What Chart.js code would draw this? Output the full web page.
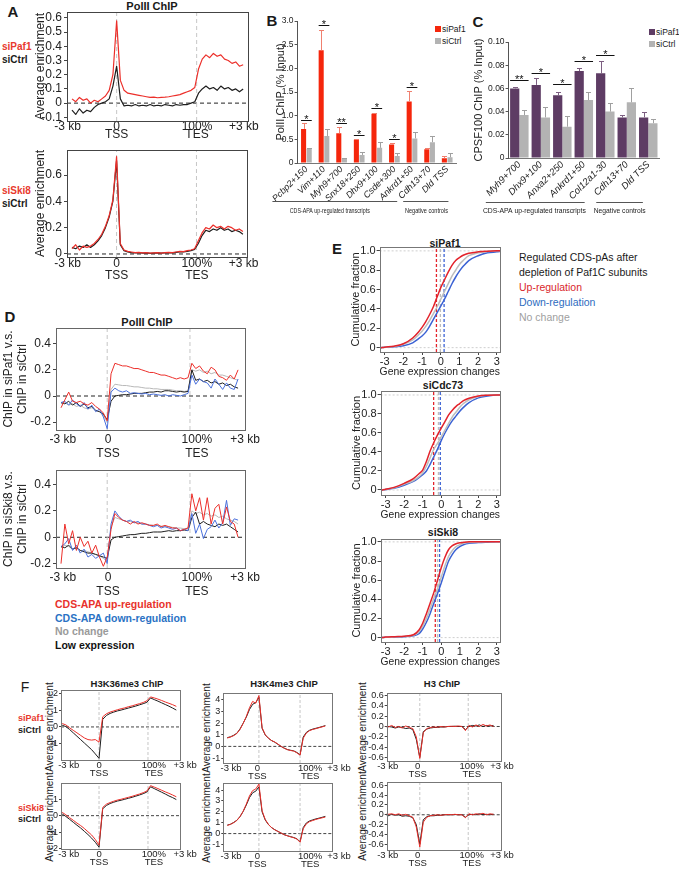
<!DOCTYPE html>
<html><head><meta charset="utf-8">
<script src="https://cdn.jsdelivr.net/npm/chart.js@4.4.1/dist/chart.umd.min.js"></script>
<style>
html,body{margin:0;padding:0;background:#fff}
body{position:relative;width:679px;height:870px;overflow:hidden;font-family:'Liberation Sans',Arial,sans-serif;color:#1a1a1a}
canvas{position:absolute}
.t{position:absolute;white-space:nowrap;line-height:1}
.c{transform:translate(-50%,-50%)}
.l{transform:translate(0,-50%)}
.r{transform:translate(-50%,-50%) rotate(-90deg)}
.b{font-weight:bold}
.sq{position:absolute;width:6px;height:6px}
</style></head><body>
<div class="t c b" style="left:13px;top:11px;font-size:15px">A</div>
<div class="t c b" style="left:152px;top:6px;font-size:11px">PolII ChIP</div>
<div class="t l b" style="left:2px;top:47px;font-size:10px;color:#e8392e">siPaf1</div>
<div class="t l b" style="left:2px;top:60px;font-size:10px">siCtrl</div>
<div class="t l b" style="left:2px;top:191px;font-size:10px;color:#e8392e">siSki8</div>
<div class="t l b" style="left:2px;top:204px;font-size:10px">siCtrl</div>

<div class="t c b" style="left:272px;top:20px;font-size:15px">B</div>
<div class="sq" style="left:435px;top:26px;background:#f5260c"></div>
<div class="t l" style="left:442px;top:29px;font-size:8.5px">siPaf1</div>
<div class="sq" style="left:435px;top:38px;background:#b3b3b3"></div>
<div class="t l" style="left:442px;top:41px;font-size:8.5px">siCtrl</div>

<div class="t c b" style="left:478px;top:21px;font-size:15px">C</div>
<div class="sq" style="left:649px;top:29px;background:#5e3c64"></div>
<div class="t l" style="left:656px;top:32px;font-size:8.5px">siPaf1</div>
<div class="sq" style="left:649px;top:40.5px;background:#b3b3b3"></div>
<div class="t l" style="left:656px;top:43.5px;font-size:8.5px">siCtrl</div>

<div class="t c b" style="left:10px;top:316px;font-size:15px">D</div>
<div class="t c b" style="left:147px;top:322px;font-size:11px">PolII ChIP</div>
<div class="t l b" style="left:55px;top:604px;font-size:10.5px;color:#e8322c">CDS-APA up-regulation</div>
<div class="t l b" style="left:55px;top:617.5px;font-size:10.5px;color:#2a72c4">CDS-APA down-regulation</div>
<div class="t l b" style="left:55px;top:631px;font-size:10.5px;color:#9a9a9a">No change</div>
<div class="t l b" style="left:55px;top:644.5px;font-size:10.5px;color:#111">Low expression</div>

<div class="t c b" style="left:337px;top:248px;font-size:15px">E</div>
<div class="t c b" style="left:445px;top:242.5px;font-size:10.5px">siPaf1</div>
<div class="t c b" style="left:443px;top:385px;font-size:10.5px">siCdc73</div>
<div class="t c b" style="left:443px;top:532px;font-size:10.5px">siSki8</div>
<div class="t l" style="left:519px;top:256.7px;font-size:10.5px">Regulated CDS-pAs after</div>
<div class="t l" style="left:519px;top:271.7px;font-size:10.5px">depletion of Paf1C subunits</div>
<div class="t l" style="left:519px;top:286.7px;font-size:10.5px;color:#d9262b">Up-regulation</div>
<div class="t l" style="left:519px;top:301.7px;font-size:10.5px;color:#2e6cc0">Down-regulation</div>
<div class="t l" style="left:519px;top:317.3px;font-size:10.5px;color:#a0a0a0">No change</div>

<div class="t c" style="left:25px;top:687px;font-size:14px">F</div>
<div class="t c b" style="left:127px;top:684px;font-size:9.5px">H3K36me3 ChIP</div>
<div class="t c b" style="left:284px;top:684px;font-size:9.5px">H3K4me3 ChIP</div>
<div class="t c b" style="left:442px;top:684px;font-size:9.5px">H3 ChIP</div>
<div class="t l b" style="left:18px;top:718.3px;font-size:9px;color:#e8392e">siPaf1</div>
<div class="t l b" style="left:18px;top:730px;font-size:9px">siCtrl</div>
<div class="t l b" style="left:18px;top:808.3px;font-size:9px;color:#e8392e">siSki8</div>
<div class="t l b" style="left:18px;top:819.3px;font-size:9px">siCtrl</div>
<div class="t r" style="left:50px;top:727px;font-size:10px">Average enrichment</div>
<div class="t r" style="left:50px;top:817px;font-size:10px">Average enrichment</div>
<div class="t r" style="left:207px;top:728px;font-size:10px">Average enrichment</div>
<div class="t r" style="left:207px;top:818px;font-size:10px">Average enrichment</div>
<div class="t r" style="left:363px;top:727px;font-size:10px">Average enrichment</div>
<div class="t r" style="left:363px;top:816px;font-size:10px">Average enrichment</div>

<script>
// ================= DATA =================
// metaplot bins: -3 kb .. TSS (bin 12) .. TES (bin 34) .. +3 kb (bin 46)
const binsMeta = [0,1,2,3,4,5,6,7,8,9,10,11,12,13,14,15,16,17,18,19,20,21,22,23,24,25,26,27,28,29,30,31,32,33,34,35,36,37,38,39,40,41,42,43,44,45,46];
const metaTickLabels = ['-3 kb',['0','TSS'],['100%','TES'],'+3 kb'];

// Panel A : PolII ChIP average enrichment
const A_siPaf1 = [0.03,0.01,0.04,0.02,0.03,0.00,0.02,0.01,0.03,0.05,0.09,0.20,0.58,0.16,0.09,0.07,0.065,0.06,0.055,0.05,0.045,0.04,0.042,0.038,0.04,0.042,0.045,0.05,0.055,0.06,0.07,0.08,0.09,0.11,0.24,0.31,0.34,0.32,0.35,0.33,0.34,0.31,0.30,0.28,0.29,0.26,0.27];
const A_siCtrl1 = [-0.05,-0.08,-0.04,-0.07,-0.05,-0.06,-0.03,-0.01,0.00,0.01,0.03,0.12,0.26,0.03,-0.02,-0.015,-0.02,-0.01,-0.02,-0.015,-0.02,-0.01,-0.02,-0.015,-0.02,-0.01,-0.015,-0.02,-0.01,-0.015,-0.01,-0.01,0.00,0.01,0.07,0.10,0.12,0.10,0.11,0.09,0.12,0.10,0.11,0.09,0.10,0.08,0.10];
const A_siSki8 = [0.04,0.07,0.03,0.06,0.05,0.06,0.08,0.11,0.15,0.21,0.29,0.41,0.74,0.08,0.03,0.02,0.015,0.01,0.012,0.008,0.01,0.006,0.008,0.01,0.007,0.01,0.012,0.01,0.015,0.02,0.018,0.025,0.03,0.04,0.10,0.16,0.20,0.19,0.22,0.20,0.21,0.19,0.21,0.20,0.18,0.19,0.17];
const A_siCtrl2 = [0.05,0.04,0.06,0.05,0.07,0.05,0.07,0.10,0.14,0.20,0.28,0.40,0.71,0.07,0.025,0.015,0.01,0.008,0.01,0.006,0.008,0.005,0.007,0.008,0.006,0.008,0.01,0.009,0.012,0.015,0.016,0.02,0.025,0.035,0.08,0.14,0.18,0.17,0.19,0.18,0.20,0.18,0.19,0.17,0.18,0.17,0.15];
const A1_yTicks = [-0.1,0,0.1,0.2,0.3,0.4,0.5,0.6];
const A1_yLabels = ['-0.1','0','0.1','0.2','0.3','0.4','0.5','0.6'];
const A2_yTicks = [0,0.2,0.4,0.6];
const A2_yLabels = ['0','0.2','0.4','0.6'];

// Panel B : PolII ChIP (% Input)
const B_targets = ['Pcbp2+150','Vim+110','Myh9+700','Snx18+250','Dhx9+100','Csde+300','Ankrd1+50','Cdh13+70','Dld TSS'];
const B_siPaf1 = [0.72,2.38,0.63,0.49,1.04,0.39,1.30,0.29,0.10];
const B_siCtrl = [0.30,0.57,0.10,0.17,0.32,0.15,0.52,0.44,0.12];
const B_errPaf1 = [0.12,0.42,0.14,0.01,0.01,0.04,0.22,0.02,0.04];
const B_errCtrl = [0.02,0.14,0.01,0.07,0.12,0.07,0.13,0.12,0.09];
const B_sig = ['*','*','**','*','*','*','*','',''];
const B_sigLevel = [0.91,2.91,0.85,0.60,1.16,0.51,1.61,0,0];
const B_yTicks = [0,0.5,1,1.5,2,2.5,3];
const B_yLabels = ['0','0.5','1.0','1.5','2.0','2.5','3.0'];

// Panel C : CPSF100 ChIP (% Input)
const C_targets = ['Myh9+700','Dhx9+100','Anxa2+250','Ankrd1+50','Col12a1-30','Cdh13+70','Dld TSS'];
const C_siPaf1 = [0.060,0.063,0.054,0.075,0.073,0.035,0.035];
const C_siCtrl = [0.037,0.035,0.027,0.050,0.040,0.048,0.030];
const C_errPaf1 = [0.001,0.006,0.003,0.003,0.011,0.002,0.005];
const C_errCtrl = [0.004,0.009,0.009,0.007,0.007,0.012,0.004];
const C_sig = ['**','*','*','*','*','',''];
const C_sigLevel = [0.067,0.073,0.064,0.084,0.089,0,0];
const C_yTicks = [0,0.02,0.04,0.06,0.08,0.10];
const C_yLabels = ['0','0.02','0.04','0.06','0.08','0.10'];

// Panel D : ChIP ratio (knockdown vs siCtrl)
const D_paf1_up = [-0.09,-0.03,0.03,-0.04,-0.05,-0.04,-0.06,-0.07,-0.05,-0.08,-0.10,-0.13,-0.19,0.17,0.25,0.24,0.23,0.23,0.22,0.21,0.21,0.20,0.19,0.18,0.18,0.17,0.16,0.16,0.15,0.14,0.13,0.14,0.13,0.14,0.25,0.21,0.23,0.19,0.17,0.22,0.20,0.15,0.14,0.12,0.16,0.13,0.20];
const D_paf1_nochg = [-0.06,-0.05,-0.07,-0.06,-0.08,-0.07,-0.09,-0.10,-0.09,-0.11,-0.12,-0.15,-0.20,0.05,0.09,0.085,0.08,0.08,0.075,0.07,0.07,0.065,0.06,0.06,0.055,0.055,0.05,0.05,0.05,0.045,0.04,0.04,0.035,0.04,0.20,0.19,0.20,0.18,0.19,0.17,0.18,0.16,0.16,0.15,0.14,0.13,0.12];
const D_paf1_down = [-0.05,-0.04,-0.07,-0.03,-0.06,-0.08,-0.05,-0.10,-0.07,-0.12,-0.10,-0.16,-0.25,0.03,0.06,0.04,0.03,0.04,0.02,0.025,0.02,0.015,0.02,0.01,0.015,0.01,0.005,0.01,0.00,0.01,0.005,0.00,0.01,0.02,0.16,0.09,0.13,0.11,0.10,0.06,0.13,0.09,0.05,0.10,0.06,0.05,0.13];
const D_paf1_low = [-0.05,-0.06,-0.04,-0.07,-0.05,-0.08,-0.06,-0.09,-0.08,-0.11,-0.12,-0.14,-0.18,-0.04,0.00,0.005,0.01,0.01,0.015,0.02,0.02,0.02,0.025,0.03,0.03,0.035,0.03,0.04,0.04,0.035,0.03,0.035,0.03,0.035,0.20,0.12,0.13,0.11,0.12,0.10,0.11,0.09,0.10,0.08,0.09,0.07,0.06];
const D_ski8_up = [-0.20,0.10,-0.05,0.05,-0.10,0.00,-0.07,-0.03,-0.12,-0.06,-0.15,-0.22,-0.15,0.06,0.18,0.15,0.13,0.12,0.10,0.12,0.10,0.11,0.10,0.09,0.09,0.10,0.08,0.09,0.08,0.07,0.07,0.05,0.06,0.07,0.33,0.20,0.30,0.13,0.30,0.10,0.22,0.25,0.10,0.23,0.12,0.10,0.00];
const D_ski8_down = [-0.07,-0.05,-0.01,-0.10,-0.06,-0.12,-0.09,-0.15,-0.13,-0.16,-0.14,-0.12,-0.20,0.10,0.20,0.16,0.13,0.12,0.13,0.11,0.12,0.10,0.10,0.09,0.08,0.09,0.07,0.08,0.07,0.06,0.07,0.05,0.06,0.05,0.18,0.03,0.10,-0.01,0.06,0.08,0.13,0.07,0.11,0.28,0.09,0.14,0.13];
const D_ski8_low = [-0.07,-0.08,-0.06,-0.09,-0.08,-0.10,-0.11,-0.12,-0.12,-0.13,-0.14,-0.15,-0.16,-0.02,0.00,0.005,0.01,0.015,0.02,0.02,0.025,0.03,0.03,0.035,0.04,0.04,0.04,0.045,0.05,0.045,0.05,0.05,0.055,0.05,0.15,0.19,0.10,0.12,0.10,0.09,0.08,0.10,0.09,0.10,0.08,0.06,0.04];
const D_ski8_nochg = [-0.08,-0.06,-0.07,-0.09,-0.08,-0.10,-0.10,-0.11,-0.12,-0.13,-0.14,-0.16,-0.18,0.08,0.15,0.14,0.13,0.12,0.12,0.11,0.11,0.10,0.10,0.095,0.09,0.09,0.085,0.08,0.08,0.075,0.07,0.07,0.065,0.07,0.20,0.18,0.19,0.17,0.18,0.16,0.17,0.15,0.16,0.14,0.13,0.12,0.10];
const D_yTicks = [-0.2,0,0.2,0.4];
const D_yLabels = ['-0.2','0','0.2','0.4'];

// Panel E : cumulative fraction vs gene expression change
const E_bins = [-3.2,-3,-2.5,-2,-1.5,-1.2,-1,-0.8,-0.6,-0.4,-0.2,0,0.2,0.4,0.6,0.8,1,1.2,1.5,2,2.5,3,3.2];
const E_paf1_up = [0,0.005,0.015,0.04,0.10,0.16,0.21,0.27,0.34,0.42,0.52,0.62,0.70,0.78,0.85,0.90,0.93,0.955,0.975,0.99,0.997,1,1];
const E_paf1_nochg = [0,0.004,0.012,0.035,0.08,0.13,0.17,0.22,0.28,0.35,0.42,0.50,0.58,0.66,0.74,0.80,0.86,0.90,0.95,0.98,0.993,1,1];
const E_paf1_down = [0,0.003,0.008,0.02,0.05,0.09,0.12,0.16,0.22,0.29,0.36,0.43,0.50,0.58,0.66,0.73,0.79,0.84,0.90,0.95,0.98,0.99,0.995];
const E_cdc73_up = [0,0.008,0.03,0.07,0.12,0.17,0.21,0.30,0.41,0.50,0.58,0.65,0.72,0.79,0.84,0.88,0.91,0.94,0.965,0.99,0.998,1,1];
const E_cdc73_nochg = [0,0.006,0.025,0.06,0.10,0.14,0.18,0.25,0.34,0.43,0.49,0.56,0.63,0.70,0.77,0.82,0.87,0.91,0.95,0.985,0.997,1,1];
const E_cdc73_down = [0,0.005,0.02,0.05,0.09,0.13,0.16,0.20,0.27,0.35,0.43,0.52,0.60,0.67,0.73,0.78,0.83,0.87,0.92,0.97,0.99,1,1];
const E_ski8_up = [0,0.005,0.01,0.015,0.03,0.08,0.15,0.25,0.36,0.47,0.60,0.73,0.84,0.92,0.96,0.98,0.99,0.995,1,1,1,1,1];
const E_ski8_nochg = [0,0.004,0.008,0.012,0.025,0.06,0.12,0.20,0.30,0.41,0.51,0.63,0.75,0.85,0.91,0.95,0.97,0.985,0.993,0.998,1,1,1];
const E_ski8_down = [0,0.003,0.006,0.01,0.02,0.04,0.09,0.16,0.25,0.36,0.46,0.57,0.69,0.80,0.87,0.92,0.95,0.97,0.985,0.993,0.997,1,1];
const E_paf1_medians = [-0.23,-0.02,0.18];   // up, no change, down
const E_cdc73_medians = [-0.41,-0.15,-0.05];
const E_ski8_medians = [-0.32,-0.20,-0.09];
const E_xTicks = [-3,-2,-1,0,1,2,3];
const E_xLabels = ['-3','-2','-1','0','1','2','3'];
const E_yTicks = [0,0.2,0.4,0.6,0.8,1];
const E_yLabels = ['0','0.2','0.4','0.6','0.8','1.0'];

// Panel F : histone ChIP metaplots, bins -3 kb .. TSS (10) .. TES (23) .. +3 kb (31)
const binsF = [0,1,2,3,4,5,6,7,8,9,10,11,12,13,14,15,16,17,18,19,20,21,22,23,24,25,26,27,28,29,30,31];
const F_K36_siPaf1 = [0.20,0.12,-0.05,-0.20,-0.35,-0.50,-0.65,-0.75,-0.78,-0.75,-0.90,0.60,0.78,0.88,0.95,1.02,1.08,1.13,1.20,1.25,1.32,1.38,1.45,1.55,1.78,1.72,1.65,1.57,1.48,1.40,1.32,1.22];
const F_K36_siCtrlA = [0.10,0.02,-0.15,-0.35,-0.55,-0.75,-0.95,-1.15,-1.35,-1.60,-1.86,0.45,0.68,0.80,0.88,0.95,1.00,1.06,1.12,1.18,1.24,1.31,1.38,1.46,1.72,1.62,1.53,1.43,1.33,1.23,1.12,1.00];
const F_K36_siSki8 = [0.20,0.05,-0.12,-0.28,-0.45,-0.60,-0.78,-0.98,-1.18,-1.45,-1.80,0.50,0.70,0.80,0.88,0.95,1.00,1.06,1.12,1.18,1.25,1.32,1.40,1.50,1.83,1.74,1.65,1.55,1.45,1.36,1.26,1.15];
const F_K36_siCtrlB = [0.10,-0.05,-0.22,-0.40,-0.58,-0.75,-0.95,-1.15,-1.37,-1.62,-1.92,0.42,0.62,0.74,0.82,0.89,0.94,1.00,1.06,1.12,1.19,1.26,1.34,1.44,1.76,1.65,1.54,1.43,1.32,1.20,1.10,0.98];
const F_K4_siPaf1 = [0.72,0.80,0.92,1.10,1.45,1.95,2.55,3.30,3.85,3.70,4.35,1.60,1.00,0.70,0.50,0.38,0.20,0.00,-0.15,-0.28,-0.35,-0.40,-0.55,-0.75,0.70,1.15,1.35,1.45,1.52,1.60,1.67,1.75];
const F_K4_siCtrlA = [0.75,0.82,0.95,1.12,1.48,1.98,2.50,3.15,3.60,3.75,4.20,1.55,0.98,0.70,0.50,0.36,0.18,0.00,-0.15,-0.27,-0.33,-0.38,-0.52,-0.72,0.80,1.20,1.38,1.48,1.55,1.62,1.70,1.78];
const F_K4_siSki8 = [0.75,0.85,1.00,1.20,1.55,2.05,2.70,3.45,3.95,4.10,4.55,2.10,1.30,0.85,0.55,0.35,0.20,0.05,-0.10,-0.20,-0.30,-0.38,-0.50,-0.80,0.45,0.90,1.10,1.20,1.30,1.38,1.45,1.52];
const F_K4_siCtrlB = [0.78,0.86,1.02,1.22,1.55,2.02,2.62,3.30,3.75,3.90,4.30,2.00,1.25,0.83,0.55,0.36,0.20,0.05,-0.10,-0.20,-0.28,-0.36,-0.48,-0.75,0.55,0.98,1.16,1.26,1.35,1.42,1.50,1.58];
const F_H3_siPaf1 = [0.01,-0.01,0.02,-0.02,0.00,-0.03,0.01,-0.02,-0.04,-0.20,-0.62,-0.12,-0.04,-0.02,-0.01,-0.015,0.00,-0.01,0.00,0.005,0.00,0.01,0.00,-0.08,0.02,-0.01,0.03,0.00,0.04,0.01,0.03,0.00];
const F_H3_siCtrlA = [-0.02,0.00,-0.01,-0.03,-0.01,-0.02,-0.04,-0.03,-0.06,-0.25,-0.60,-0.10,-0.05,-0.03,-0.02,-0.02,-0.01,-0.01,0.00,0.00,0.005,0.00,0.00,-0.06,0.00,0.02,0.01,0.03,0.00,0.02,0.01,0.02];
const F_H3_siSki8 = [0.03,0.01,0.02,0.00,0.02,-0.01,0.01,-0.02,-0.05,-0.25,-0.66,-0.15,-0.05,-0.02,-0.01,0.00,-0.01,0.00,0.005,0.00,0.01,0.00,0.00,-0.06,0.02,0.00,0.02,0.01,0.03,0.00,0.02,0.01];
const F_H3_siCtrlB = [0.00,-0.02,0.01,-0.01,0.00,-0.03,-0.02,-0.03,-0.06,-0.20,-0.60,-0.10,-0.04,-0.02,-0.02,-0.01,-0.01,0.00,0.00,0.00,0.005,0.00,0.00,-0.05,0.00,0.01,0.00,0.02,0.00,0.01,0.00,0.01];
const F_K36a_yTicks = [-1,0,1,2];      const F_K36a_yLabels = ['-1','0','1','2'];
const F_K36b_yTicks = [-2,-1,0,1];     const F_K36b_yLabels = ['-2','-1','0','1'];
const F_K4_yTicks = [-1,0,1,2,3,4];    const F_K4_yLabels = ['-1','0','1','2','3','4'];
const F_H3_yTicks = [-0.6,-0.4,-0.2,0,0.2,0.4,0.6];
const F_H3_yLabels = ['-0.6','-0.4','-0.2','0','0.2','0.4','0.6'];

// ================= STYLE / HELPERS =================
const FONT = "'Liberation Sans', Arial, Helvetica, sans-serif";
Chart.defaults.font.family = FONT;
Chart.defaults.color = '#222';
const RED = '#ec2f2a', BLK = '#1e1e1e', DBLUE = '#4a70dc', DGRAY = '#b8b8b8';
const ERED = '#e3232b', EBLUE = '#3b62d4', EGRAY = '#bdbdbd';
const VLINE = '#c6c6c6';

Chart.register({
  id: 'frame',
  afterDraw(chart, args, o) {
    if (!o || !o.show) return;
    const a = chart.chartArea, ctx = chart.ctx;
    ctx.save();
    ctx.strokeStyle = o.color || '#555'; ctx.lineWidth = 1;
    const l = Math.round(a.left), t = Math.round(a.top), r = Math.round(a.right), b = Math.round(a.bottom);
    ctx.strokeRect(l + 0.5, t + 0.5, r - l, b - t);
    ctx.restore();
  }
});

Chart.register({
  id: 'barExtras',
  afterDatasetsDraw(chart, args, o) {
    if (!o || !o.errs) return;
    const ctx = chart.ctx, ys = chart.scales.y, xs = chart.scales.x;
    ctx.save();
    ctx.lineWidth = 1;
    o.errs.forEach((errs, di) => {
      const meta = chart.getDatasetMeta(di), vals = chart.data.datasets[di].data;
      ctx.strokeStyle = o.errColors[di];
      meta.data.forEach((bar, i) => {
        const e = errs[i]; if (!e) return;
        const y0 = ys.getPixelForValue(vals[i]), y1 = Math.round(ys.getPixelForValue(vals[i] + e)) + 0.5;
        const bx = Math.round(bar.x) + 0.5;
        ctx.beginPath(); ctx.moveTo(bx, y0); ctx.lineTo(bx, y1);
        ctx.moveTo(bx - 2.5, y1); ctx.lineTo(bx + 2.5, y1); ctx.stroke();
      });
    });
    const m0 = chart.getDatasetMeta(0), m1 = chart.getDatasetMeta(1);
    ctx.strokeStyle = '#111'; ctx.fillStyle = '#111';
    ctx.font = o.sigSize + 'px ' + FONT; ctx.textAlign = 'center'; ctx.textBaseline = 'alphabetic';
    o.sig.forEach((s, i) => {
      if (!s) return;
      const yy = Math.round(ys.getPixelForValue(o.sigY[i])) + 0.5;
      const xa = m0.data[i].x - m0.data[i].width / 2, xb = m1.data[i].x + m1.data[i].width / 2;
      ctx.beginPath(); ctx.moveTo(xa, yy); ctx.lineTo(xb, yy); ctx.stroke();
      ctx.fillText(s, (xa + xb) / 2, yy + 2.5);
    });
    const base = chart.chartArea.bottom;
    ctx.strokeStyle = '#555'; ctx.fillStyle = '#222';
    ctx.font = o.groupSize + 'px ' + FONT; ctx.textBaseline = 'middle';
    o.groups.forEach(g => {
      const xa = xs.getPixelForValue(g.from), xb = xs.getPixelForValue(g.to);
      const ly = Math.round(base + o.gLine) + 0.5;
      ctx.beginPath(); ctx.moveTo(xa, ly); ctx.lineTo(xb, ly); ctx.stroke();
      ctx.fillText(g.text, xs.getPixelForValue(g.center), base + o.gText, g.width);
    });
    ctx.restore();
  }
});

function mkCanvas(box, yW, xH, padT, padR, padL) {
  padL = padL || 0;
  const L = Math.round(box.l - yW - padL), T = Math.round(box.t - padT);
  const W = Math.round(box.r + padR - L), H = Math.round(box.b + xH - T);
  const cv = document.createElement('canvas');
  cv.width = W; cv.height = H;
  cv.style.left = L + 'px'; cv.style.top = T + 'px';
  cv.style.width = W + 'px'; cv.style.height = H + 'px';
  document.body.appendChild(cv);
  return cv;
}
const fixAxis = (key, size) => s => { s[key] = size; s.paddingLeft = 0; s.paddingRight = 0; s.paddingTop = 0; s.paddingBottom = 0; };

function axisCfg(a, key, size) {
  return {
    type: 'linear', min: a.min, max: a.max, bounds: 'data',
    afterBuildTicks: s => { s.ticks = a.ticks.map(v => ({ value: v })); },
    afterFit: fixAxis(key, size),
    ticks: { autoSkip: false, maxRotation: 0, minRotation: 0, padding: a.pad, color: '#222',
             font: { size: a.size, lineHeight: a.lh || 1.2 }, callback: (v, i) => a.labels[i] },
    grid: { display: true, drawOnChartArea: false, drawTicks: (a.tick || 0) > 0, tickLength: a.tick || 0, tickColor: '#444', tickWidth: 1 },
    border: { display: false },
    title: a.title ? { display: true, text: a.title, color: '#222', font: { size: a.titleSize, lineHeight: 1.2 }, padding: { top: 0, bottom: 0 } } : { display: false }
  };
}

function lineChart(c) {
  const cv = mkCanvas(c.box, c.yW, c.xH, c.padT, c.padR, c.padL);
  const ds = [];
  c.series.forEach(s => ds.push({
    data: c.xs.map((x, i) => ({ x: x, y: s.data[i] })),
    borderColor: s.color, borderWidth: s.w || 1, pointRadius: 0, fill: false, tension: 0,
    cubicInterpolationMode: s.smooth ? 'monotone' : 'default', borderJoinStyle: 'round'
  }));
  (c.vlines || []).forEach(v => ds.push({ data: [{ x: v.x, y: c.y.min }, { x: v.x, y: c.y.max }],
    borderColor: v.color, borderWidth: v.w || 1, borderDash: v.dash || [4, 3], pointRadius: 0, fill: false }));
  (c.hlines || []).forEach(h => ds.push({ data: [{ x: c.x.min, y: h.y }, { x: c.x.max, y: h.y }],
    borderColor: h.color, borderWidth: h.w || 1, borderDash: h.dash || [4, 3], pointRadius: 0, fill: false }));
  new Chart(cv, {
    type: 'line', data: { datasets: ds },
    options: {
      responsive: false, animation: false, devicePixelRatio: 1, events: [],
      layout: { autoPadding: false, padding: { left: c.padL || 0, top: c.padT, right: c.padR, bottom: 0 } },
      plugins: { legend: { display: false }, tooltip: { enabled: false }, frame: { show: true, color: c.frame || '#555' } },
      scales: { x: axisCfg(c.x, 'height', c.xH), y: axisCfg(c.y, 'width', c.yW) }
    }
  });
}

function barChart(c) {
  const cv = mkCanvas(c.box, c.yW, c.xH, c.padT, c.padR, c.padL);
  new Chart(cv, {
    type: 'bar',
    data: { labels: c.labels, datasets: c.sets.map(s => ({ data: s.data, backgroundColor: s.color, borderWidth: 0,
            categoryPercentage: c.catPct, barPercentage: c.barPct })) },
    options: {
      responsive: false, animation: false, devicePixelRatio: 1, events: [],
      layout: { autoPadding: false, padding: { left: c.padL || 0, top: c.padT, right: c.padR, bottom: 0 } },
      plugins: { legend: { display: false }, tooltip: { enabled: false },
        barExtras: { errs: c.errs, errColors: c.errColors, sig: c.sig, sigY: c.sigY, sigSize: c.sigSize,
                     groups: c.groups, gLine: c.gLine, gText: c.gText, groupSize: c.groupSize } },
      scales: {
        x: { type: 'category', afterFit: fixAxis('height', c.xH),
             ticks: { autoSkip: false, minRotation: 45, maxRotation: 45, padding: c.xPad, color: '#222',
                      font: { size: c.xSize, style: 'italic' } },
             grid: { display: true, drawOnChartArea: false, drawTicks: false },
             border: { display: true, color: '#777', width: 1 } },
        y: { type: 'linear', min: c.y.min, max: c.y.max, bounds: 'data',
             afterBuildTicks: s => { s.ticks = c.y.ticks.map(v => ({ value: v })); },
             afterFit: fixAxis('width', c.yW),
             ticks: { padding: 1, color: '#222', font: { size: c.y.size }, callback: (v, i) => c.y.labels[i] },
             grid: { display: true, drawOnChartArea: false, drawTicks: true, tickLength: 3, tickColor: '#555' },
             border: { display: true, color: '#555', width: 1 },
             title: { display: true, text: c.y.title, color: '#222', font: { size: c.y.titleSize, lineHeight: 1.2 }, padding: { top: 0, bottom: 0 } } }
      }
    }
  });
}

// ================= PANEL A =================
lineChart({ box: { l: 67, t: 12, r: 248, b: 121 }, yW: 34, xH: 22, padT: 10, padR: 16,
  xs: binsMeta, frame: '#444',
  x: { min: -1.34, max: 47.3, ticks: [-1.2, 12, 33.6, 46.2], labels: metaTickLabels, size: 12, lh: 0.72, pad: 1, tick: 0 },
  y: { min: -0.126, max: 0.642, ticks: A1_yTicks, labels: A1_yLabels, size: 12, pad: 2, tick: 3, title: 'Average enrichment', titleSize: 12 },
  series: [{ data: A_siPaf1, color: RED, w: 1.2 }, { data: A_siCtrl1, color: BLK, w: 1.2 }],
  vlines: [{ x: 12, color: VLINE }, { x: 33.5, color: VLINE }],
  hlines: [{ y: 0, color: '#222', dash: [4, 3] }] });

lineChart({ box: { l: 67, t: 150, r: 247, b: 257 }, yW: 34, xH: 28, padT: 10, padR: 16,
  xs: binsMeta, frame: '#444',
  x: { min: -1.34, max: 47.1, ticks: [-1.2, 12, 33.6, 46.2], labels: metaTickLabels, size: 12, lh: 1.05, pad: 0, tick: 0 },
  y: { min: -0.023, max: 0.79, ticks: A2_yTicks, labels: A2_yLabels, size: 12, pad: 2, tick: 3, title: 'Average enrichment', titleSize: 12 },
  series: [{ data: A_siSki8, color: RED, w: 1.2 }, { data: A_siCtrl2, color: BLK, w: 1.2 }],
  vlines: [{ x: 12, color: VLINE }, { x: 33.5, color: VLINE }],
  hlines: [{ y: 0, color: '#222', dash: [4, 3] }] });

// ================= PANEL B =================
barChart({ box: { l: 298, t: 20.7, r: 456, b: 163.3 }, yW: 23.6, xH: 56, padT: 8, padR: 4, padL: 8,
  labels: B_targets,
  sets: [{ data: B_siPaf1, color: '#f5260c' }, { data: B_siCtrl, color: '#b3b3b3' }],
  errs: [B_errPaf1, B_errCtrl], errColors: ['#f0806f', '#a0a0a0'],
  catPct: 0.64, barPct: 0.9, xSize: 9, xPad: 1,
  y: { min: 0, max: 3, ticks: B_yTicks, labels: B_yLabels, size: 8.5, title: 'PolII ChIP (% Input)', titleSize: 11 },
  sig: B_sig, sigY: B_sigLevel, sigSize: 11,
  groups: [{ from: -1.93, to: 5.16, text: 'CDS-APA up-regulated transcripts', center: 1.33, width: 80 },
           { from: 5.5, to: 8.07, text: 'Negative controls', center: 6.82, width: 43 }],
  gLine: 38, gText: 48, groupSize: 8 });

// ================= PANEL C =================
barChart({ box: { l: 509, t: 41.7, r: 659, b: 158.3 }, yW: 36.6, xH: 60, padT: 8, padR: 10, padL: 8,
  labels: C_targets,
  sets: [{ data: C_siPaf1, color: '#5e3c64' }, { data: C_siCtrl, color: '#b3b3b3' }],
  errs: [C_errPaf1, C_errCtrl], errColors: ['#7d5f82', '#a0a0a0'],
  catPct: 0.86, barPct: 1.0, xSize: 9.5, xPad: 1,
  y: { min: 0, max: 0.1, ticks: C_yTicks, labels: C_yLabels, size: 8.5, title: 'CPSF100 ChIP (% Input)', titleSize: 11 },
  sig: C_sig, sigY: C_sigLevel, sigSize: 11,
  groups: [{ from: -1.56, to: 3.04, text: 'CDS-APA up-regulated transcripts', center: 0.7, width: 103 },
           { from: 3.58, to: 5.75, text: 'Negative controls', center: 4.67, width: 52 }],
  gLine: 44, gText: 53, groupSize: 8 });

// ================= PANEL D =================
const Dx = { min: -1.3, max: 47.8, ticks: [0.5, 12.2, 35.3, 47.8], labels: metaTickLabels, size: 12, lh: 1.15, pad: 3, tick: 0 };
lineChart({ box: { l: 56, t: 328, r: 245, b: 430 }, yW: 55, xH: 30, padT: 8, padR: 16,
  xs: binsMeta, frame: '#666', x: Dx,
  y: { min: -0.26, max: 0.52, ticks: D_yTicks, labels: D_yLabels, size: 12, pad: 2, tick: 3, title: ['ChIP in siPaf1 v.s.', 'ChIP in siCtrl'], titleSize: 12 },
  series: [{ data: D_paf1_up, color: RED }, { data: D_paf1_down, color: DBLUE }, { data: D_paf1_low, color: BLK }, { data: D_paf1_nochg, color: DGRAY }],
  vlines: [{ x: 12, color: VLINE }, { x: 33.5, color: VLINE }],
  hlines: [{ y: 0, color: '#222', dash: [4, 3] }] });

lineChart({ box: { l: 56, t: 470, r: 245, b: 568 }, yW: 55, xH: 30, padT: 8, padR: 16,
  xs: binsMeta, frame: '#666', x: Dx,
  y: { min: -0.233, max: 0.51, ticks: D_yTicks, labels: D_yLabels, size: 12, pad: 2, tick: 3, title: ['ChIP in siSki8 v.s.', 'ChIP in siCtrl'], titleSize: 12 },
  series: [{ data: D_ski8_up, color: RED }, { data: D_ski8_down, color: DBLUE }, { data: D_ski8_low, color: BLK }, { data: D_ski8_nochg, color: DGRAY }],
  vlines: [{ x: 12, color: VLINE }, { x: 33.5, color: VLINE }],
  hlines: [{ y: 0, color: '#222', dash: [4, 3] }] });

// ================= PANEL E =================
function eChart(box, ymin, ymax, up, nochg, down, med) {
  lineChart({ box: box, yW: 30.6, xH: 27, padT: 8, padR: 8, xs: E_bins, frame: '#777',
    x: { min: -3.27, max: 3.17, ticks: E_xTicks, labels: E_xLabels, size: 11, lh: 1.1, pad: 1, tick: 3, title: 'Gene expression changes', titleSize: 11.5 },
    y: { min: ymin, max: ymax, ticks: E_yTicks, labels: E_yLabels, size: 11, pad: 1, tick: 3, title: 'Cumulative fraction', titleSize: 11 },
    series: [{ data: up, color: ERED, w: 1.5, smooth: true }, { data: nochg, color: EGRAY, w: 1.5, smooth: true }, { data: down, color: EBLUE, w: 1.5, smooth: true }],
    vlines: [{ x: med[0], color: ERED, dash: [3, 2], w: 1.3 }, { x: med[1], color: EGRAY, dash: [3, 2], w: 1.3 }, { x: med[2], color: EBLUE, dash: [3, 2], w: 1.3 }],
    hlines: [{ y: 0, color: '#cfcfcf', dash: [2, 2] }, { y: 1, color: '#cfcfcf', dash: [2, 2] }] });
}
eChart({ l: 380, t: 247, r: 500, b: 352 }, -0.045, 1.04, E_paf1_up, E_paf1_nochg, E_paf1_down, E_paf1_medians);
eChart({ l: 381, t: 391, r: 500, b: 495 }, -0.053, 1.042, E_cdc73_up, E_cdc73_nochg, E_cdc73_down, E_cdc73_medians);
eChart({ l: 381, t: 539, r: 500, b: 642 }, -0.046, 1.03, E_ski8_up, E_ski8_nochg, E_ski8_down, E_ski8_medians);

// ================= PANEL F =================
function fChart(box, yW, xr, yr, red, black) {
  lineChart({ box: box, yW: yW, xH: 20, padT: 6, padR: 22, xs: binsF, frame: '#777',
    x: { min: xr.min, max: xr.max, ticks: xr.ticks, labels: metaTickLabels, size: 9.5, lh: 0.88, pad: 1, tick: 0 },
    y: { min: yr.min, max: yr.max, ticks: yr.ticks, labels: yr.labels, size: 9, pad: 1, tick: 2 },
    series: [{ data: red, color: RED }, { data: black, color: BLK }],
    vlines: [{ x: 10, color: VLINE, dash: [3, 2] }, { x: xr.tes, color: VLINE, dash: [3, 2] }],
    hlines: [{ y: 0, color: '#444', dash: [3, 2] }] });
}
const Fx1 = { min: -0.33, max: 32.0, ticks: [1.77, 10, 24.9, 33.4], tes: 23.3 };
const Fx2 = { min: -1.26, max: 33.1, ticks: [1.2, 9.5, 26.2, 35.3], tes: 23 };
const Fx3 = { min: 0.57, max: 33.14, ticks: [0.86, 9.4, 24.8, 33.4], tes: 23.8 };
fChart({ l: 61, t: 690, r: 180, b: 760 }, 17, Fx1, { min: -1.96, max: 2.19, ticks: F_K36a_yTicks, labels: F_K36a_yLabels }, F_K36_siPaf1, F_K36_siCtrlA);
fChart({ l: 61, t: 783, r: 180, b: 849 }, 17, Fx1, { min: -2.03, max: 1.99, ticks: F_K36b_yTicks, labels: F_K36b_yLabels }, F_K36_siSki8, F_K36_siCtrlB);
fChart({ l: 223, t: 693, r: 332, b: 763 }, 22.3, Fx2, { min: -1.42, max: 4.57, ticks: F_K4_yTicks, labels: F_K4_yLabels }, F_K4_siPaf1, F_K4_siCtrlA);
fChart({ l: 223, t: 783, r: 332, b: 851 }, 22.3, Fx2, { min: -1.6, max: 4.65, ticks: F_K4_yTicks, labels: F_K4_yLabels }, F_K4_siSki8, F_K4_siCtrlB);
fChart({ l: 387, t: 693, r: 501, b: 761 }, 29.7, Fx3, { min: -0.67, max: 0.65, ticks: F_H3_yTicks, labels: F_H3_yLabels }, F_H3_siPaf1, F_H3_siCtrlA);
fChart({ l: 387, t: 782, r: 501, b: 850 }, 29.7, Fx3, { min: -0.72, max: 0.67, ticks: F_H3_yTicks, labels: F_H3_yLabels }, F_H3_siSki8, F_H3_siCtrlB);
</script>
</body></html>
